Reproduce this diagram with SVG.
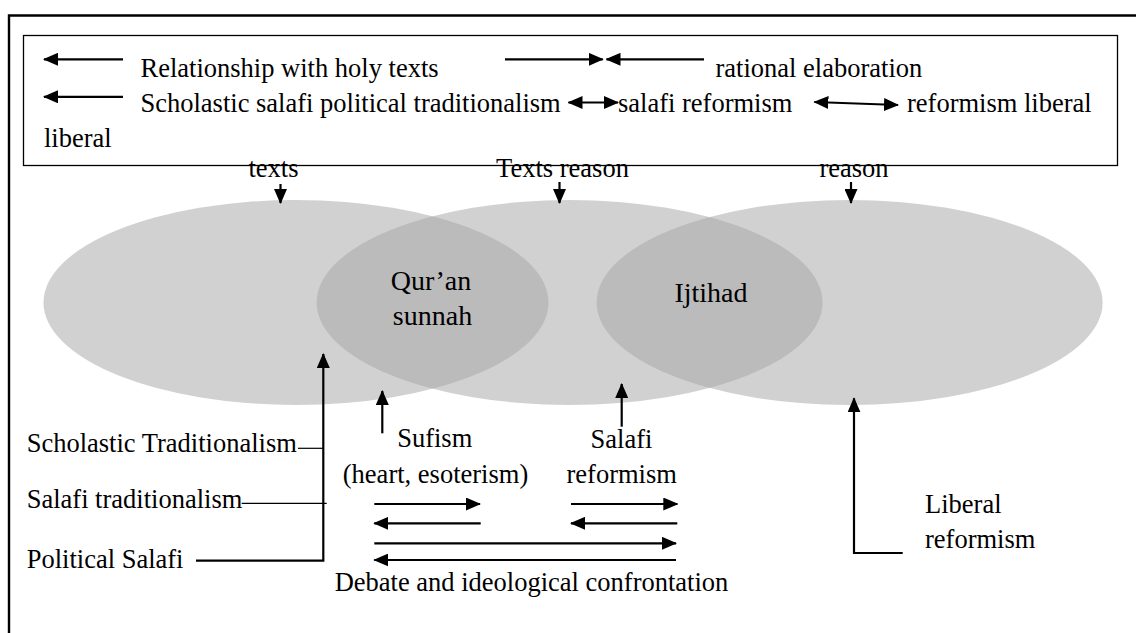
<svg xmlns="http://www.w3.org/2000/svg" width="1136" height="633" viewBox="0 0 1136 633">
<style>
text{font-family:"Liberation Serif","Times New Roman",serif;font-size:26.5px;fill:#000}
.c{text-anchor:middle}
.big{font-size:28px}
.ar{stroke:#000;stroke-width:2.2;fill:none;marker-end:url(#ah)}
.db{stroke:#000;stroke-width:2.2;fill:none;marker-end:url(#ah);marker-start:url(#ah)}
.ln{stroke:#000;stroke-width:2.2;fill:none}
.thin{stroke:#000;stroke-width:1.2;fill:none}
.el{fill:#a7a7a7;fill-opacity:0.52}
</style>
<defs>
<marker id="ah" markerWidth="15" markerHeight="13" refX="14" refY="6.5" orient="auto-start-reverse" markerUnits="userSpaceOnUse"><path d="M0,0 L15,6.5 L0,13 z" fill="#000"/></marker>
</defs>
<rect width="1136" height="633" fill="#fff"/>
<path d="M9,640 V15.5 H1140" fill="none" stroke="#000" stroke-width="2.4"/>
<g id="legend">
<rect x="23.5" y="35.5" width="1094" height="130" fill="none" stroke="#000" stroke-width="1.3"/>
<text x="140.5" y="76.5">Relationship with holy texts</text>
<text x="715.5" y="76.5">rational elaboration</text>
<text x="140.5" y="112">Scholastic salafi political traditionalism</text>
<text x="618" y="112">salafi reformism</text>
<text x="907" y="112">reformism liberal</text>
<text x="44" y="147">liberal</text>
</g>
<g id="ellipses">
<ellipse id="e-texts" class="el" cx="296" cy="302.5" rx="252.5" ry="102.5"/>
<ellipse id="e-textsreason" class="el" cx="569.6" cy="302.5" rx="253" ry="102.5"/>
<ellipse id="e-reason" class="el" cx="849.6" cy="302.5" rx="253" ry="102.5"/>
</g>
<g id="n-texts"><text x="273.5" y="176.5" class="c">texts</text></g>
<g id="n-textsreason"><text x="562.5" y="176.5" class="c">Texts reason</text></g>
<g id="n-reason"><text x="854" y="176.5" class="c">reason</text></g>
<g id="n-quran"><text x="431" y="290" class="c big">Qur’an</text><text x="432.5" y="325" class="c big">sunnah</text></g>
<g id="n-ijtihad"><text x="711" y="301.5" class="c big">Ijtihad</text></g>
<g id="n-scholastic"><text x="26.7" y="451.7">Scholastic Traditionalism</text></g>
<g id="n-salafitrad"><text x="26.7" y="508">Salafi traditionalism</text></g>
<g id="n-political"><text x="26.7" y="568.3">Political Salafi</text></g>
<g id="n-sufism"><text x="434.7" y="447" class="c">Sufism</text><text x="435.5" y="483" class="c">(heart, esoterism)</text></g>
<g id="n-salafiref"><text x="621.5" y="448" class="c">Salafi</text><text x="621.7" y="483.3" class="c">reformism</text></g>
<g id="n-liberal"><text x="925" y="513.3">Liberal</text><text x="925" y="548.3">reformism</text></g>
<g id="n-debate"><text x="531.5" y="591" class="c">Debate and ideological confrontation</text></g>
<g id="connectors">
<line class="ar" x1="123" y1="59.3" x2="44" y2="59.3"/>
<line class="ar" x1="123" y1="96.8" x2="44" y2="96.8"/>
<line class="ar" x1="505" y1="59.3" x2="602.7" y2="59.3"/>
<line class="ar" x1="704" y1="59.3" x2="606.5" y2="59.3"/>
<line class="db" x1="568.5" y1="102.5" x2="618" y2="102.5"/>
<line class="db" x1="814.4" y1="102" x2="898" y2="105"/>
<line class="ar" x1="280.5" y1="184" x2="280.5" y2="203"/>
<line class="ar" x1="559.5" y1="182" x2="559.5" y2="203"/>
<line class="ar" x1="851" y1="182" x2="851" y2="203"/>
<polyline class="ar" points="196,560.7 323.3,560.7 323.3,354"/>
<line class="thin" x1="298" y1="448.3" x2="323.3" y2="448.3"/>
<line class="thin" x1="241.7" y1="503.3" x2="326.7" y2="503.3"/>
<line class="ar" x1="382.3" y1="433.3" x2="382.3" y2="391"/>
<line class="ar" x1="621.7" y1="426.7" x2="621.7" y2="384"/>
<polyline class="ar" points="902.7,553 854,553 854,398.3"/>
<line class="ar" x1="374.3" y1="504" x2="480" y2="504"/>
<line class="ar" x1="480.7" y1="523.3" x2="374.3" y2="523.3"/>
<line class="ar" x1="571" y1="504" x2="677.3" y2="504"/>
<line class="ar" x1="677.3" y1="523.3" x2="571" y2="523.3"/>
<line class="ar" x1="374.3" y1="543.3" x2="676" y2="543.3"/>
<line class="ar" x1="676" y1="560" x2="374.3" y2="560"/>
</g>
</svg>
